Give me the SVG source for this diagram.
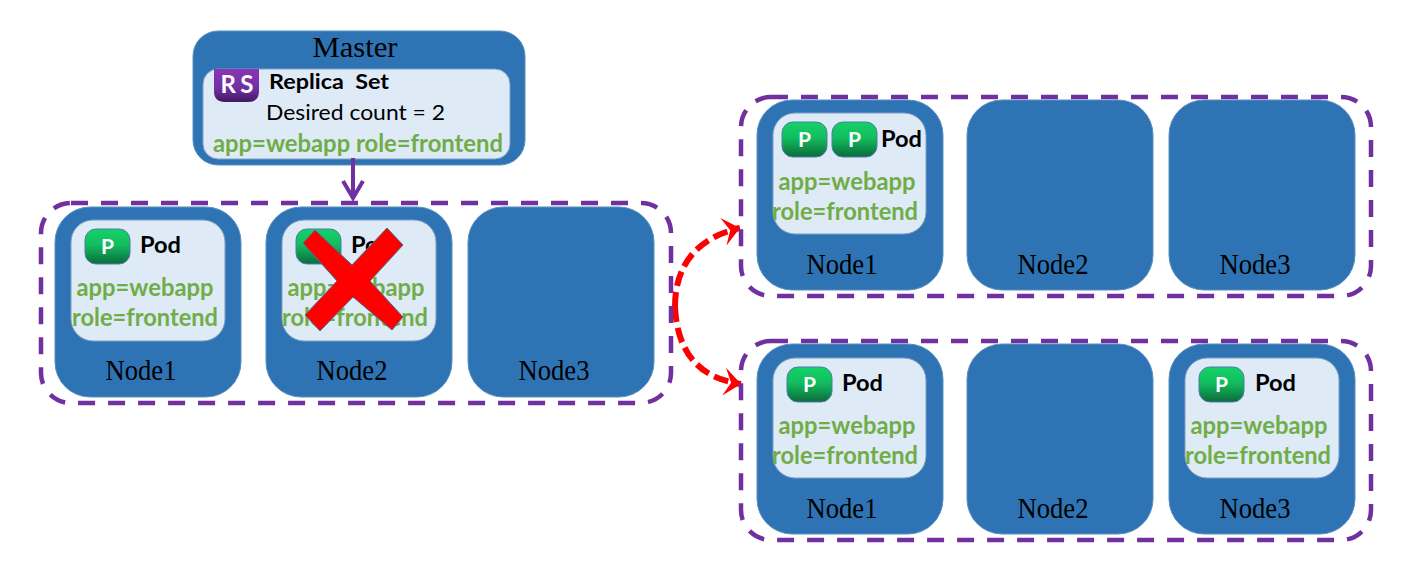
<svg xmlns="http://www.w3.org/2000/svg" width="1419" height="576" viewBox="0 0 1419 576">
<style>
.node{fill:#2e74b5;stroke:#5b8fc0;stroke-width:1}
.card{fill:#deeaf6;stroke:#7d9fc4;stroke-width:1}
.zone{fill:none;stroke:#7030a0;stroke-width:4.5;stroke-dasharray:17 13}
.nl{font-family:"Liberation Serif",serif;font-size:29px;fill:#000;text-anchor:middle}
.pod{font-family:Lato,"Open Sans",sans-serif;font-weight:700;font-size:22px;fill:#000}
.lb{font-family:Lato,"Open Sans",sans-serif;font-weight:700;font-size:24px;fill:#70ad47;text-anchor:middle}
.ic{font-family:Lato,"Open Sans",sans-serif;font-weight:700;font-size:21px;fill:#fff;text-anchor:middle}
.red{fill:none;stroke:#f00;stroke-width:6;stroke-dasharray:15 6}
</style>
<defs>
<linearGradient id="gp" x1="0" y1="0" x2="0" y2="1"><stop offset="0" stop-color="#14d268"/><stop offset=".45" stop-color="#12bd5e"/><stop offset="1" stop-color="#0b6b3c"/></linearGradient>
<linearGradient id="gr" x1="0" y1="0" x2="0" y2="1"><stop offset="0" stop-color="#8a35b5"/><stop offset=".6" stop-color="#7030a0"/><stop offset="1" stop-color="#41195f"/></linearGradient>
<marker id="ah" markerUnits="userSpaceOnUse" markerWidth="22" markerHeight="30" refX="19" refY="15" orient="auto"><path d="M2 1L19 15L2 29L9 15Z" fill="#f00"/></marker>
<marker id="ap" markerUnits="userSpaceOnUse" markerWidth="22" markerHeight="26" refX="20" refY="13" orient="auto"><path d="M2 3L19 13L2 23" fill="none" stroke="#7030a0" stroke-width="4"/></marker>
<g id="podicon"><rect x="0" y="0" width="45" height="35" rx="11" fill="url(#gp)" stroke="#4d7ea8" stroke-width="1"/><text class="ic" x="22.500" y="24.500">P</text></g>
</defs>
<g id="master">
<rect x="193" y="31" width="332" height="134" rx="25" class="node"/>
<rect x="203" y="69" width="307" height="90" rx="15" class="card"/>
<text class="nl" x="355" y="57" textLength="85" lengthAdjust="spacingAndGlyphs">Master</text>
<path d="M214 69H259V91Q259 102 248 102H225Q214 102 214 91Z" fill="url(#gr)"/>
<text class="ic" x="237" y="93" style="font-size:24px" textLength="33" lengthAdjust="spacing">RS</text>
<text class="pod" x="269" y="89" style="font-size:21px;white-space:pre" textLength="120" lengthAdjust="spacingAndGlyphs">Replica  Set</text>
<text x="266" y="120" font-family="Lato,Open Sans,sans-serif" font-size="22" fill="#000" textLength="179" lengthAdjust="spacingAndGlyphs">Desired count = 2</text>
<text class="lb" x="358" y="152" textLength="290" lengthAdjust="spacingAndGlyphs">app=webapp role=frontend</text>
</g>
<g id="connectors">
<path d="M353 158V199" fill="none" stroke="#7030a0" stroke-width="4" marker-end="url(#ap)"/>
<path class="red" d="M675 307C675 262 700 237 740 228" marker-end="url(#ah)"/>
<path class="red" d="M675 307C677 350 697 378 741 384" marker-end="url(#ah)"/>
</g>
<g id="zone-left"><rect x="41" y="203" width="630" height="200" rx="30" class="zone"/></g>
<g id="zone-top"><rect x="741" y="97" width="630" height="199" rx="30" class="zone"/></g>
<g id="zone-bottom"><rect x="741" y="341" width="630" height="199" rx="30" class="zone"/></g>
<g id="left-node1">
<rect x="55" y="207" width="186" height="190" rx="35" class="node"/>
<rect x="71" y="220" width="154" height="121" rx="22" class="card"/>
<use href="#podicon" x="85" y="229"/>
<text class="pod" x="140" y="253" textLength="41" lengthAdjust="spacingAndGlyphs">Pod</text>
<text class="lb" x="145" y="296" textLength="137" lengthAdjust="spacingAndGlyphs">app=webapp</text>
<text class="lb" x="145" y="326" textLength="146" lengthAdjust="spacingAndGlyphs">role=frontend</text>
<text class="nl" x="141" y="380" textLength="71" lengthAdjust="spacingAndGlyphs">Node1</text>
</g>
<g id="left-node2">
<rect x="266" y="207" width="186" height="190" rx="35" class="node"/>
<rect x="282" y="220" width="154" height="121" rx="22" class="card"/>
<use href="#podicon" x="296" y="229"/>
<text class="pod" x="351" y="253" textLength="41" lengthAdjust="spacingAndGlyphs">Pod</text>
<text class="lb" x="356" y="296" textLength="137" lengthAdjust="spacingAndGlyphs">app=webapp</text>
<text class="lb" x="355" y="326" textLength="146" lengthAdjust="spacingAndGlyphs">role=frontend</text>
<text class="nl" x="352" y="380" textLength="71" lengthAdjust="spacingAndGlyphs">Node2</text>
<polygon points="303,243 315,230 352,265 387,228 403,245 370,281 403,317 392,330 353,297 320,331 305,315 337,281" fill="#f00" stroke="#41719c" stroke-width="1"/>
</g>
<g id="left-node3">
<rect x="468" y="207" width="186" height="190" rx="35" class="node"/>
<text class="nl" x="554" y="380" textLength="71" lengthAdjust="spacingAndGlyphs">Node3</text>
</g>
<g id="top-node1">
<rect x="757" y="100" width="186" height="190" rx="35" class="node"/>
<rect x="773" y="113" width="153" height="121" rx="22" class="card"/>
<use href="#podicon" x="782" y="122"/>
<use href="#podicon" x="832" y="122"/>
<text class="pod" x="881" y="147" textLength="41" lengthAdjust="spacingAndGlyphs">Pod</text>
<text class="lb" x="847" y="190" textLength="137" lengthAdjust="spacingAndGlyphs">app=webapp</text>
<text class="lb" x="845" y="220" textLength="146" lengthAdjust="spacingAndGlyphs">role=frontend</text>
<text class="nl" x="842" y="274" textLength="71" lengthAdjust="spacingAndGlyphs">Node1</text>
</g>
<g id="top-node2">
<rect x="967" y="100" width="186" height="190" rx="35" class="node"/>
<text class="nl" x="1053" y="274" textLength="71" lengthAdjust="spacingAndGlyphs">Node2</text>
</g>
<g id="top-node3">
<rect x="1169" y="100" width="186" height="190" rx="35" class="node"/>
<text class="nl" x="1255" y="274" textLength="71" lengthAdjust="spacingAndGlyphs">Node3</text>
</g>
<g id="bottom-node1">
<rect x="757" y="344" width="186" height="190" rx="35" class="node"/>
<rect x="773" y="358" width="153" height="120" rx="22" class="card"/>
<use href="#podicon" x="787" y="367"/>
<text class="pod" x="842" y="391" textLength="41" lengthAdjust="spacingAndGlyphs">Pod</text>
<text class="lb" x="847" y="434" textLength="137" lengthAdjust="spacingAndGlyphs">app=webapp</text>
<text class="lb" x="845" y="464" textLength="146" lengthAdjust="spacingAndGlyphs">role=frontend</text>
<text class="nl" x="842" y="518" textLength="71" lengthAdjust="spacingAndGlyphs">Node1</text>
</g>
<g id="bottom-node2">
<rect x="967" y="344" width="186" height="190" rx="35" class="node"/>
<text class="nl" x="1053" y="518" textLength="71" lengthAdjust="spacingAndGlyphs">Node2</text>
</g>
<g id="bottom-node3">
<rect x="1169" y="344" width="186" height="190" rx="35" class="node"/>
<rect x="1185" y="358" width="154" height="120" rx="22" class="card"/>
<use href="#podicon" x="1199" y="367"/>
<text class="pod" x="1255" y="391" textLength="41" lengthAdjust="spacingAndGlyphs">Pod</text>
<text class="lb" x="1259" y="434" textLength="137" lengthAdjust="spacingAndGlyphs">app=webapp</text>
<text class="lb" x="1258" y="464" textLength="146" lengthAdjust="spacingAndGlyphs">role=frontend</text>
<text class="nl" x="1255" y="518" textLength="71" lengthAdjust="spacingAndGlyphs">Node3</text>
</g>
</svg>
